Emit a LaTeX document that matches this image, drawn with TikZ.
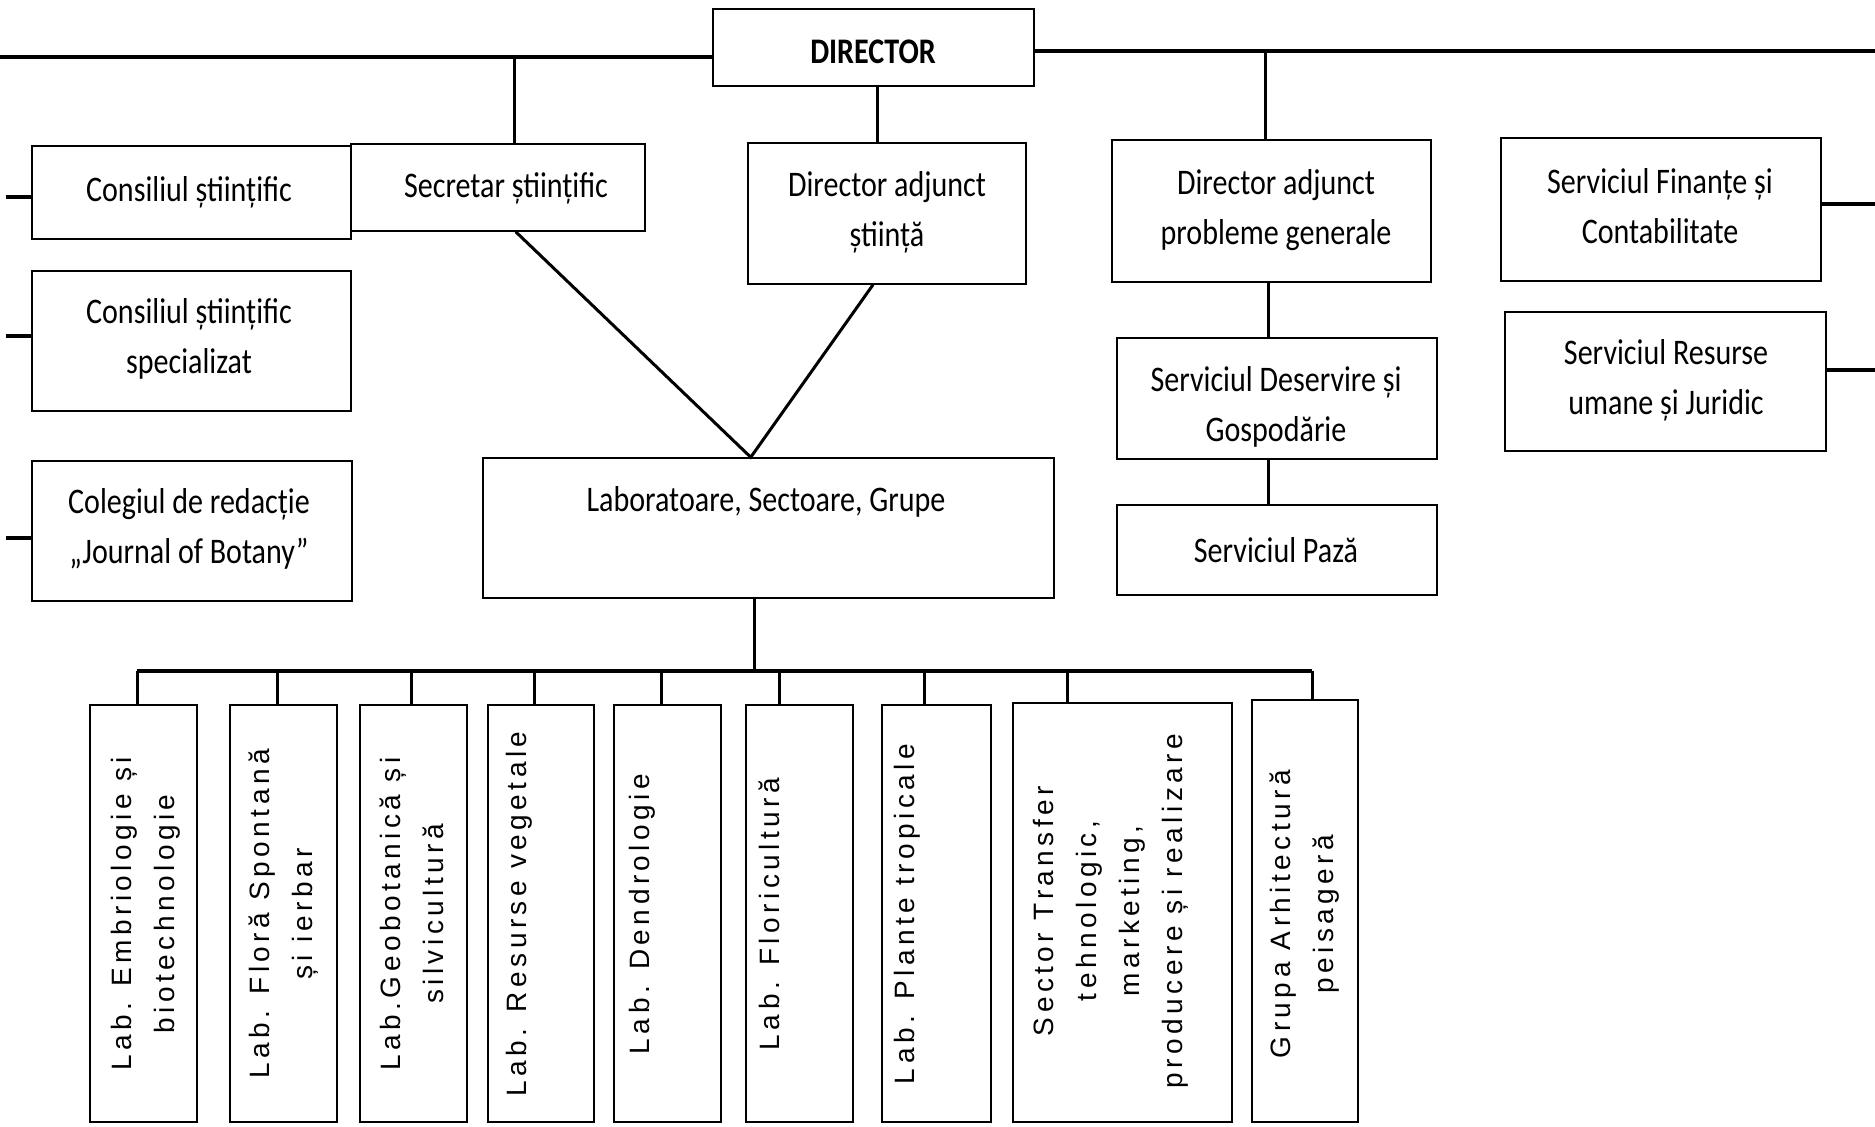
\documentclass[tikz,border=0pt]{standalone}
\usepackage{fontspec}
\newfontfamily\boxfont[FakeStretch=0.835]{Carlito}
\newfontfamily\labfont[LetterSpace=16]{Liberation Sans}
\usetikzlibrary{fit,calc}
\begin{document}
\begin{tikzpicture}[x=0.5pt,y=-0.5pt,
  box/.style={draw, line width=0.75pt, inner sep=0pt},
  txt/.style={font=\boxfont\fontsize{18}{25}\selectfont, align=center, inner sep=0pt},
  labtxt/.style={font=\labfont\fontsize{14}{21.5}\selectfont, align=center, inner sep=0pt, rotate=90, anchor=north},
  conn/.style={line width=1.5pt},
  topl/.style={line width=1.8pt},
  busl/.style={line width=2pt},
  stub/.style={line width=2pt}]
\useasboundingbox (0,0) rectangle (1875,1127);
\fill[white] (0,0) rectangle (1875,1127);

% upper boxes
\node[box,fit={(713,9)(1034,86)}] (dir) {};
\node[box,fit={(32,146)(351,239)}] (cs) {};
\node[box,fit={(32,271)(351,411)}] (css) {};
\node[box,fit={(32,461)(352,601)}] (col) {};
\node[box,fit={(351,144)(645,231)}] (sec) {};
\node[box,fit={(748,143)(1026,284)}] (das) {};
\node[box,fit={(483,458)(1054,598)}] (lab) {};
\node[box,fit={(1112,140)(1431,282)}] (dap) {};
\node[box,fit={(1117,338)(1437,459)}] (sdg) {};
\node[box,fit={(1117,505)(1437,595)}] (sp) {};
\node[box,fit={(1501,138)(1821,281)}] (sfc) {};
\node[box,fit={(1505,312)(1826,451)}] (srj) {};

\node[txt,font=\boxfont\bfseries\fontsize{18}{25}\selectfont] (dirt) at (873,52) {DIRECTOR};
\node[txt] (cst) at (189,192) {Consiliul științific};
\node[txt] (csst) at (189,339) {Consiliul științific\\specializat};
\node[txt] (colt) at (189,529) {Colegiul de redacție\\„Journal of Botany”};
\node[txt] (sect) at (506,188) {Secretar științific};
\node[txt] (dast) at (887,212) {Director adjunct\\știință};
\node[txt] (labt) at (766,502) {Laboratoare, Sectoare, Grupe};
\node[txt] (dapt) at (1276,210) {Director adjunct\\probleme generale};
\node[txt] (sdgt) at (1276,407) {Serviciul Deservire și\\Gospodărie};
\node[txt] (spt) at (1276,550) {Serviciul Pază};
\node[txt] (sfct) at (1660,206) {Serviciul Finanțe și\\Contabilitate};
\node[txt] (srjt) at (1666,380) {Serviciul Resurse\\umane și Juridic};

% lower boxes
\node[box,fit={(90,705)(197,1122)}] (l1) {};
\node[box,fit={(230,705)(337,1122)}] (l2) {};
\node[box,fit={(360,705)(467,1122)}] (l3) {};
\node[box,fit={(488,705)(594,1122)}] (l4) {};
\node[box,fit={(614,705)(721,1122)}] (l5) {};
\node[box,fit={(746,705)(853,1122)}] (l6) {};
\node[box,fit={(882,705)(991,1122)}] (l7) {};
\node[box,fit={(1013,703)(1232,1122)}] (l8) {};
\node[box,fit={(1252,700)(1358,1122)}] (l9) {};
\node[labtxt] (t1) at (111,914) {Lab. Embriologie și\\biotechnologie};
\node[labtxt] (t2) at (248,914) {Lab. Floră Spontană\\și ierbar};
\node[labtxt] (t3) at (379,914) {Lab.Geobotanică și\\silvicultură};
\node[labtxt] (t4) at (506,914) {Lab. Resurse vegetale};
\node[labtxt] (t5) at (629,914) {Lab. Dendrologie};
\node[labtxt] (t6) at (758,914) {Lab. Floricultură};
\node[labtxt] (t7) at (894,914) {Lab. Plante tropicale};
\node[labtxt] (t8) at (1033,911) {Sector Transfer\\tehnologic,\\marketing,\\producere și realizare};
\node[labtxt] (t9) at (1269,914) {Grupa Arhitectură\\peisageră};

% top line
\coordinate (tl) at (0,57);
\coordinate (tr) at (1875,51);
\draw[topl] (tl) -- (dir.west |- tl);
\draw[topl] (dir.east |- tr) -- (tr);

% connectors
\coordinate (qs) at (514,57);
\draw[conn] (qs) -- (qs |- sec.north);
\coordinate (qd) at (877,0);
\draw[conn] (qd |- dir.south) -- (qd |- das.north);
\coordinate (qp) at (1265,51);
\draw[conn] (qp) -- (qp |- dap.north);
\coordinate (qg) at (1268,0);
\draw[conn] (qg |- dap.south) -- (qg |- sdg.north);
\draw[conn] (qg |- sdg.south) -- (qg |- sp.north);

% left stubs
\coordinate (s1) at (6,197);
\coordinate (s2) at (6,336);
\coordinate (s3) at (6,538);
\draw[stub] (s1) -- (s1 -| cs.west);
\draw[stub] (s2) -- (s2 -| css.west);
\draw[stub] (s3) -- (s3 -| col.west);

% right stubs
\coordinate (r1) at (1875,204);
\coordinate (r2) at (1875,370);
\draw[stub] (sfc.east |- r1) -- (r1);
\draw[stub] (srj.east |- r2) -- (r2);

% V to laboratories
\coordinate (apex) at ($(lab.north west)!0.469!(lab.north east)$);
\draw[conn] ($(sec.south west)!0.56!(sec.south east)$) -- (apex) -- ($(das.south west)!0.45!(das.south east)$);

% bus
\coordinate (lb) at ($(lab.south west)!0.475!(lab.south east)$);
\coordinate (busy) at (0,671);
\draw[conn] (lb) -- (lb |- busy);
\coordinate (d1) at (137,671);
\coordinate (d2) at (277,671);
\coordinate (d3) at (411,671);
\coordinate (d4) at (534,671);
\coordinate (d5) at (661,671);
\coordinate (d6) at (779,671);
\coordinate (d7) at (924,671);
\coordinate (d8) at (1067,671);
\coordinate (d9) at (1312,671);
\draw[busl] (d1) -- (d9);
\foreach \i in {1,...,9}{
  \draw[conn] (d\i) -- (d\i |- l\i.north);
}
\end{tikzpicture}
\end{document}
